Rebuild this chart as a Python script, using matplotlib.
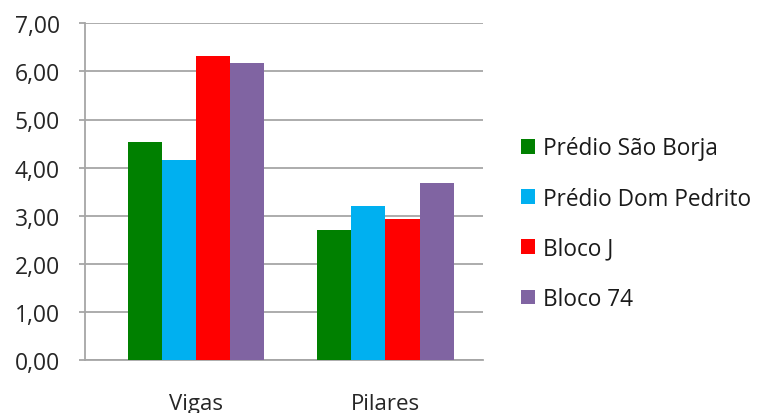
import numpy as np
import matplotlib
matplotlib.use('Agg')
import matplotlib.pyplot as plt
from matplotlib.ticker import FuncFormatter

categories = ["Vigas", "Pilares"]
series = ["Prédio São Borja", "Prédio Dom Pedrito", "Bloco J", "Bloco 74"]
sao_borja = [4.54, 2.71]
dom_pedrito = [4.16, 3.21]
bloco_j = [6.33, 2.93]
bloco_74 = [6.17, 3.67]
colors = ["#008000", "#00B0F0", "#FF0000", "#8064A2"]

values = [sao_borja, dom_pedrito, bloco_j, bloco_74]

plt.rcParams['font.family'] = ['Open Sans', 'DejaVu Sans']
fig = plt.figure(figsize=(7.59, 4.14), dpi=100)
ax = fig.add_axes([85/759, 53/414, 398/759, 336.7/414])

x = np.arange(len(categories))
w = 0.18
for i, (name, vals) in enumerate(zip(series, values)):
    ax.bar(x + (i - 1.5) * w, vals, w, color=colors[i], label=name, zorder=3)

ax.set_xlim(-0.586, 1.515)
ax.set_ylim(0, 7)
ax.set_yticks(np.arange(0, 8, 1))
ax.yaxis.set_major_formatter(FuncFormatter(lambda v, p: f"{v:.2f}".replace('.', ',')))
ax.set_xticks(x)
ax.set_xticklabels(categories)

ax.grid(axis='y', color='#A6A6A6', linewidth=1.3, zorder=0)
ax.set_axisbelow(True)
for s in ['top', 'right']:
    ax.spines[s].set_visible(False)
for s in ['left', 'bottom']:
    ax.spines[s].set_color('#A6A6A6')
    ax.spines[s].set_linewidth(1.3)

ax.tick_params(axis='y', length=4, width=1.3, color='#A6A6A6', pad=14, labelsize=16.5, labelcolor='#262626')
ax.tick_params(axis='x', length=0, pad=24, labelsize=16, labelcolor='#262626')

leg = ax.legend(loc='center left', bbox_to_anchor=(1.072, 0.405), frameon=False,
                fontsize=16.3, handlelength=0.62, handleheight=0.62,
                handletextpad=0.35, labelspacing=1.16, borderaxespad=0)
for t in leg.get_texts():
    t.set_color('#1a1a1a')

fig.savefig('out.png', dpi=100)
